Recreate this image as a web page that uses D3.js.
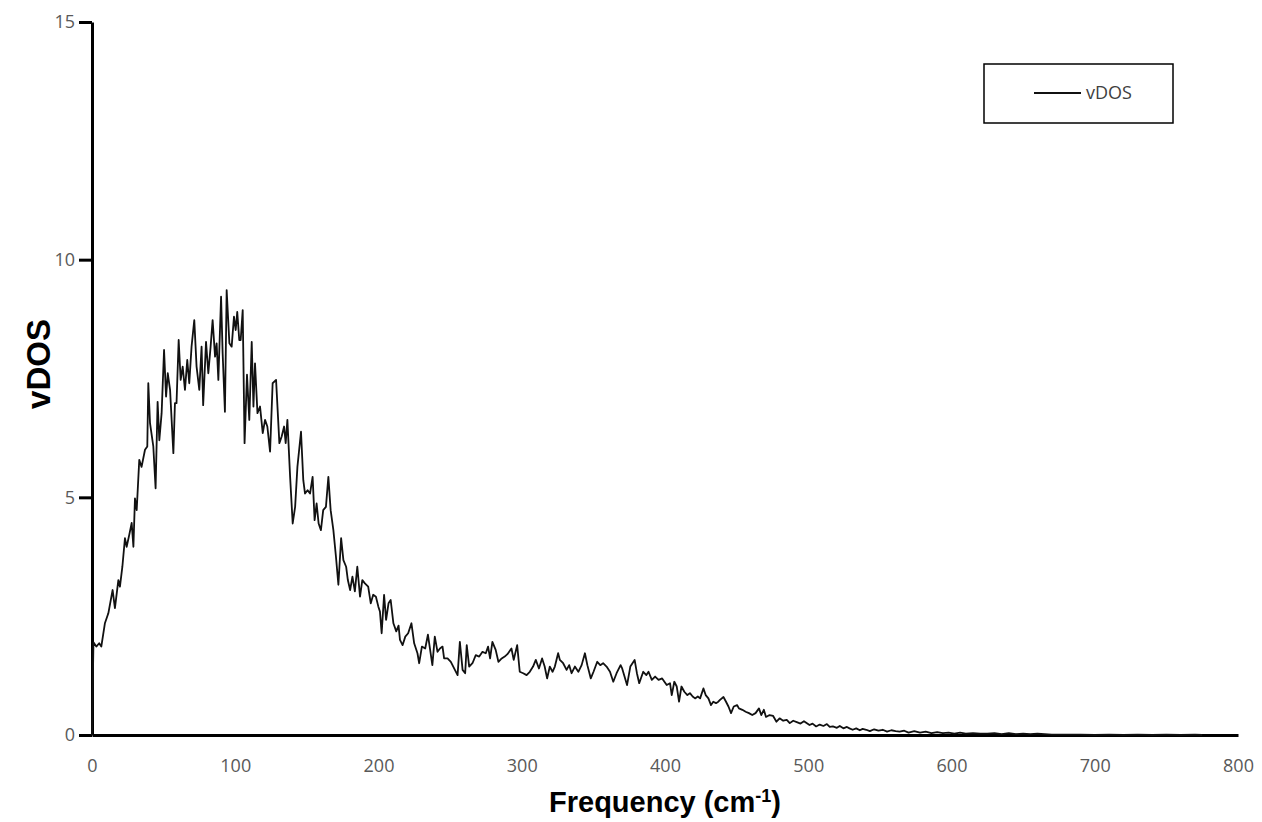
<!DOCTYPE html>
<html>
<head>
<meta charset="utf-8">
<script src="https://cdn.jsdelivr.net/npm/d3@7"></script>
<style>
  body { margin: 0; background: #fff; }
  svg { display: block; }
</style>
</head>
<body>
<div id="chart"></div>
<script>
// values
var frequency = [0,1,3,5,6.5,9,11.4,14.4,16,18.4,19.5,21.2,23,24.2,26,27.7,28.9,30,31.2,33,34.6,37,38.6,39.3,40.5,42.8,44.4,45.8,47,48.6,
  50.3,51.7,52.9,54.5,56.8,57.9,59,60.5,61.9,63.3,64.9,66.5,67.9,69.5,71.4,73,74.9,76.5,77.6,79.6,81.2,82.8,84.2,85.9,87,88.2,90.1,91.2,92.8,94,
  95.9,97.5,99.1,100.3,101.4,102.8,103.8,105.2,106.5,108.2,109.8,111.5,112.7,113.8,115.5,117.3,119.2,120.8,122.4,124.3,126.1,128.5,130.8,132.4,134.1,135.2,136.4,138.3,140.1,141.8,
  143.4,145.9,147.5,148.7,150.5,152.2,154,155.4,156.8,158.2,159.8,161.4,163.3,165,166.6,168.5,170.3,172,173.9,175.5,177.4,178.6,180.2,181.8,183.5,185.2,187.1,188.7,190.5,192.8,
  194.6,196.3,198.2,199.9,201,202.2,203.9,205.3,207,208.5,210.4,212.4,214,215,216.8,218.7,220.7,223,224.9,227.2,228.4,230.3,232.6,234.5,235.9,237.6,239.3,241.2,242.9,244.7,
  245.8,248.2,250.5,252.8,255.2,256.8,258.7,260.5,261.6,263.3,265.6,267.9,270.3,272.6,274.9,276.5,277.9,279.5,281.8,283.7,286,288.1,290,292.8,294.4,296.8,298.6,301,303.4,305.6,
  307.9,309.8,312,314.2,316,317.7,319.6,321.5,323.1,325.4,326.6,328.9,331.3,333.1,334.8,337.1,339.5,341.8,344.1,345.8,348.2,350.1,352.7,354.8,356.8,359.2,361.6,363.9,366.2,369,
  370.1,373.5,375.8,378.8,380.4,382,384.8,387,388.5,390.8,393.1,395.5,398,401.2,403.5,404.7,406.5,408.2,409.8,411.5,413.5,415.6,417.4,419.3,421,422.9,424.5,426.8,428.4,430.3,
  432.1,433.7,435.6,437.2,438.4,440.8,442.6,444.3,446.1,448,450.3,451.6,454,456.3,458.6,460.9,463.2,465.6,467.2,469,470.5,473,475.5,477.8,480,482.5,485,487.1,489.5,492,
  494.6,497,500.9,503,505.5,508,510.6,513,515,517.2,520,522,524.5,527,528.8,531,533.5,536,538,540.5,543,546,549,552,555,558,561,563.8,567,570,
  574,578,582,586,590,594,598,602,606,610,615,620,625,630,635,640,645,650,655,660,670,680,690,700,710,720,730,740,750,760,770,775];

var vdos = [0,1.95,1.86,1.93,1.86,2.35,2.56,3.05,2.67,3.26,3.12,3.54,4.14,3.96,4.21,4.46,3.96,4.98,4.73,5.79,5.64,6.0,6.07,7.4,6.56,6.07,5.19,7.01,6.2,6.77,
  8.1,7.12,7.61,7.26,5.93,6.98,6.98,8.31,7.47,7.75,7.26,7.89,7.4,8.17,8.73,7.75,7.26,8.17,6.94,8.27,7.61,8.17,8.73,7.96,8.24,7.47,9.22,8.03,6.8,9.36,
  8.24,8.17,8.8,8.52,8.9,8.31,8.31,8.94,6.14,7.58,6.63,8.27,6.91,7.82,6.77,6.91,6.35,6.63,6.49,5.96,7.4,7.47,6.14,6.28,6.49,6.14,6.63,5.43,4.45,4.8,
  5.64,6.38,5.36,5.08,5.15,5.08,5.43,4.52,4.87,4.45,4.31,4.73,4.8,5.43,4.73,4.31,3.75,3.16,4.14,3.68,3.54,3.26,3.05,3.33,3.02,3.54,2.91,3.26,3.19,3.12,
  2.77,2.95,2.91,2.7,2.6,2.14,2.95,2.42,2.77,2.84,2.35,2.18,2.3,2.0,1.89,2.07,2.14,2.35,1.93,1.72,1.51,1.86,1.82,2.11,1.82,1.47,2.07,1.75,1.82,1.86,
  1.61,1.61,1.54,1.4,1.26,1.96,1.37,1.3,1.89,1.44,1.51,1.68,1.65,1.75,1.72,1.86,1.61,1.96,1.79,1.54,1.61,1.65,1.7,1.82,1.58,1.89,1.33,1.3,1.26,1.33,
  1.44,1.58,1.4,1.61,1.44,1.19,1.44,1.33,1.44,1.72,1.58,1.51,1.37,1.47,1.3,1.44,1.33,1.47,1.72,1.47,1.19,1.33,1.54,1.47,1.51,1.44,1.33,1.12,1.3,1.47,
  1.4,1.05,1.44,1.58,1.3,1.09,1.33,1.26,1.33,1.16,1.23,1.16,1.19,1.05,1.09,0.84,1.12,1.02,0.7,1.02,0.91,0.84,0.88,0.81,0.77,0.81,0.77,0.98,0.84,0.77,
  0.63,0.7,0.67,0.7,0.74,0.8,0.7,0.6,0.46,0.6,0.63,0.56,0.53,0.49,0.46,0.42,0.46,0.56,0.42,0.53,0.38,0.42,0.4,0.28,0.35,0.3,0.32,0.25,0.3,0.27,
  0.24,0.29,0.21,0.24,0.18,0.22,0.19,0.23,0.17,0.18,0.15,0.19,0.14,0.17,0.14,0.11,0.14,0.1,0.13,0.11,0.08,0.12,0.09,0.11,0.07,0.1,0.08,0.07,0.09,0.05,
  0.08,0.05,0.07,0.04,0.06,0.04,0.05,0.03,0.05,0.03,0.04,0.03,0.03,0.04,0.02,0.04,0.02,0.03,0.02,0.03,0.01,0.01,0.01,0,0.01,0,0.01,0,0.01,0,0.01,0];

var xTicks = [0, 100, 200, 300, 400, 500, 600, 700, 800];
var yTicks = [0, 5, 10, 15];
var seriesName = "vDOS";

var width = 1262, height = 822;
var margin = {top: 22, right: 24, bottom: 87, left: 92};

var svg = d3.select("#chart").append("svg")
  .attr("width", width)
  .attr("height", height);

var x = d3.scaleLinear().domain([0, 800]).range([margin.left, width - margin.right]);
var y = d3.scaleLinear().domain([0, 15]).range([height - margin.bottom, margin.top]);

var tickFont = "'Open Sans', 'Liberation Sans', sans-serif";

// x axis
var xAxis = svg.append("g")
  .attr("transform", "translate(0," + y(0) + ")")
  .call(d3.axisBottom(x).tickValues(xTicks).tickSize(0).tickPadding(24).tickFormat(d3.format("d")));
xAxis.select(".domain").attr("stroke", "#000").attr("stroke-width", 3);
xAxis.selectAll("text").attr("fill", "#595959").style("font-family", tickFont).style("font-size", "18px");

// y axis
var yAxis = svg.append("g")
  .attr("transform", "translate(" + x(0) + ",0)")
  .call(d3.axisLeft(y).tickValues(yTicks).tickSize(13).tickSizeOuter(0).tickPadding(4).tickFormat(d3.format("d")));
yAxis.select(".domain").attr("stroke", "#000").attr("stroke-width", 3);
yAxis.selectAll(".tick line").attr("stroke", "#000").attr("stroke-width", 3);
yAxis.selectAll("text").attr("fill", "#595959").style("font-family", tickFont).style("font-size", "18px");

// the curve
var pts = frequency.map(function(f, i) { return [f, vdos[i]]; });
var line = d3.line().x(function(d) { return x(d[0]); }).y(function(d) { return y(d[1]); });
svg.append("path")
  .datum(pts)
  .attr("fill", "none")
  .attr("stroke", "#111")
  .attr("stroke-width", 1.8)
  .attr("stroke-linejoin", "round")
  .attr("d", line);

// axis titles
var xt = svg.append("text")
  .attr("x", (x(0) + x(800)) / 2)
  .attr("y", 812)
  .attr("text-anchor", "middle")
  .style("font-family", "'Liberation Sans', Arial, sans-serif")
  .style("font-weight", "bold")
  .style("font-size", "29px")
  .attr("fill", "#000");
xt.append("tspan").text("Frequency (cm");
xt.append("tspan").attr("dy", -10).style("font-size", "18px").text("-1");
xt.append("tspan").attr("dy", 10).text(")");

svg.append("text")
  .attr("transform", "translate(50," + 364 + ") rotate(-90)")
  .attr("text-anchor", "middle")
  .style("font-family", "'Liberation Sans', Arial, sans-serif")
  .style("font-weight", "bold")
  .style("font-size", "33px")
  .attr("fill", "#000")
  .text("vDOS");

// legend
var legend = svg.append("g").attr("transform", "translate(984,64)");
legend.append("rect")
  .attr("width", 189).attr("height", 59)
  .attr("fill", "#fff").attr("stroke", "#000").attr("stroke-width", 1.5);
legend.append("line")
  .attr("x1", 50).attr("x2", 97).attr("y1", 29).attr("y2", 29)
  .attr("stroke", "#111").attr("stroke-width", 1.8);
legend.append("text")
  .attr("x", 102).attr("y", 35)
  .style("font-family", tickFont)
  .style("font-size", "18px")
  .attr("fill", "#404040")
  .text(seriesName);
</script>
</body>
</html>
